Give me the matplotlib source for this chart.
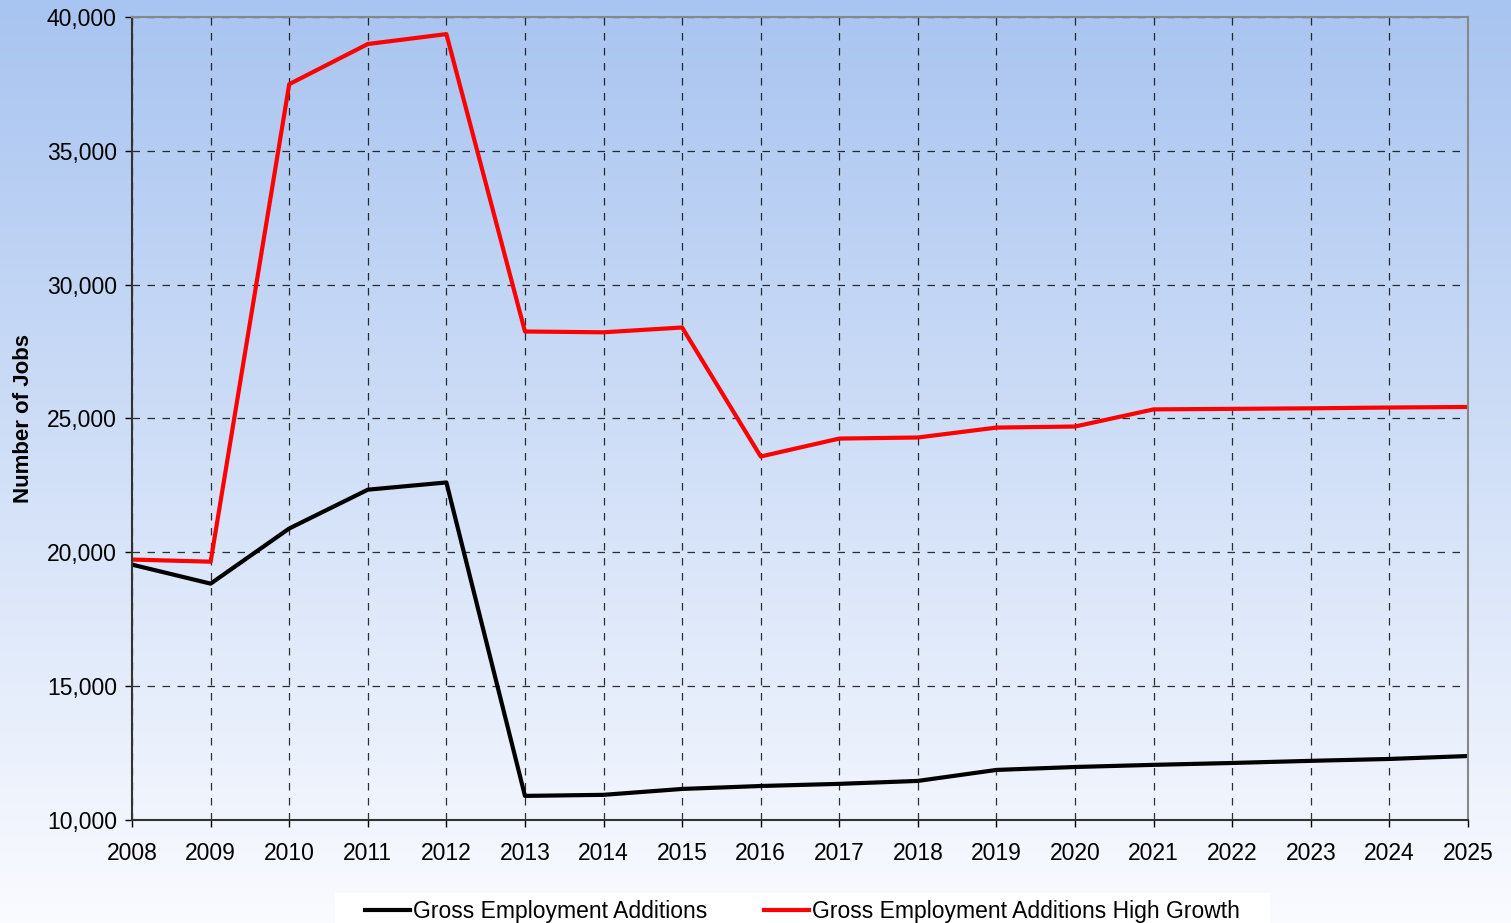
import numpy as np
import matplotlib
matplotlib.use("Agg")
import matplotlib.pyplot as plt
from matplotlib import font_manager
from matplotlib.patches import Rectangle
from matplotlib.ticker import FuncFormatter

years = list(range(2008, 2026))
gross_additions = [19540, 18830, 20890, 22340, 22610, 10900, 10940, 11160, 11270,
                   11350, 11460, 11870, 11980, 12060, 12130, 12210, 12280, 12390]
gross_additions_high = [19730, 19650, 37490, 38990, 39360, 28250, 28220, 28400, 23580,
                        24250, 24290, 24660, 24700, 25340, 25360, 25380, 25410, 25430]

names = {f.name for f in font_manager.fontManager.ttflist}
narrow = "Liberation Sans Narrow" if "Liberation Sans Narrow" in names else "Liberation Sans"
plt.rcParams["font.family"] = ["Liberation Sans", "DejaVu Sans"]

W, H = 1511, 923
fig = plt.figure(figsize=(W / 100, H / 100), dpi=100)

# background gradient, blue at top fading to near white
bg = fig.add_axes([0, 0, 1, 1], zorder=-10)
top = np.array([168, 196, 240]) / 255
bottom = np.array([250, 251, 255]) / 255
t = np.linspace(0, 1, 256)[:, None]
grad = top * (1 - t) + bottom * t
bg.imshow(grad[:, None, :], aspect="auto", extent=[0, 1, 0, 1])
bg.axis("off")

ax = fig.add_axes([0.0874, 0.1116, 0.8841, 0.87])
ax.patch.set_alpha(0)
ax.plot(years, gross_additions, color="black", lw=3, label="Gross Employment Additions")
ax.plot(years, gross_additions_high, color="#ff0000", lw=3,
        label="Gross Employment Additions High Growth")

ax.set_xlim(2008, 2025)
ax.set_ylim(10000, 40000)
ax.set_xticks(years)
ax.set_yticks(range(10000, 40001, 5000))
ax.yaxis.set_major_formatter(FuncFormatter(lambda v, p: f"{int(v):,}"))
ax.tick_params(axis="both", labelsize=16.5, direction="out", length=5, width=1, colors="black")
ax.tick_params(axis="x", pad=11)
ax.tick_params(axis="y", pad=6)
ax.grid(True, color="black", linestyle=(0, (6, 6)), linewidth=0.9, alpha=0.8)
ax.set_axisbelow(True)
for side in ["top", "right"]:
    ax.spines[side].set_color("#888888")
    ax.spines[side].set_linewidth(1.5)
for side in ["left", "bottom"]:
    ax.spines[side].set_color("#333333")
    ax.spines[side].set_linewidth(1.5)
ax.set_ylabel("Number of Jobs", fontsize=16, fontweight="bold", labelpad=9)

# white legend box running off the bottom edge
fig.patches.append(Rectangle((335 / W, 0), (1270 - 335) / W, (H - 893) / H,
                             transform=fig.transFigure, facecolor="white",
                             edgecolor="none", zorder=1))
fig.legend(loc="upper left", bbox_to_anchor=(358 / W, 0.0325), ncol=2,
           frameon=False, handlelength=1.96, handletextpad=0.13, columnspacing=2.5,
           borderpad=0.3, borderaxespad=0, prop={"family": narrow, "size": 16.5})

fig.savefig("out.png", dpi=100)
